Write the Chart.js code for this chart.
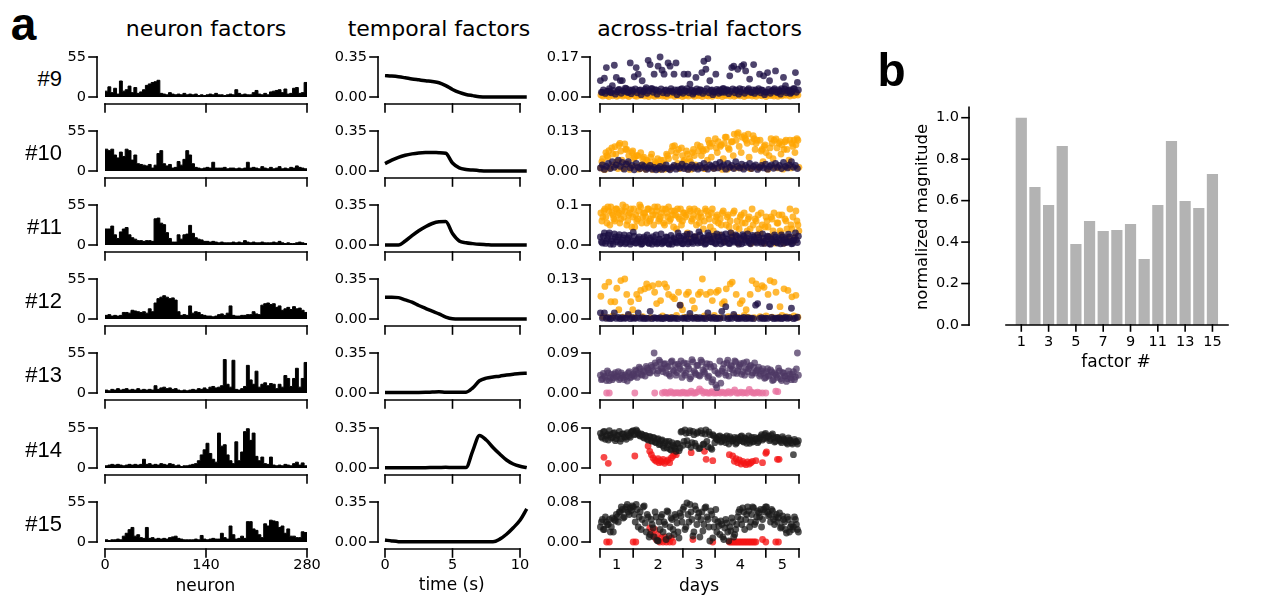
<!DOCTYPE html>
<html>
<head>
<meta charset="utf-8">
<script src="https://cdn.jsdelivr.net/npm/chart.js@4.4.1/dist/chart.umd.min.js"></script>
<style>
  body { margin: 0; background: #fff; }
  #page { position: relative; width: 1268px; height: 597px; overflow: hidden; font-family: "DejaVu Sans", sans-serif; }
  #page canvas { position: absolute; }
  .txt { position: absolute; white-space: nowrap; line-height: 1; color: #000; }
</style>
</head>
<body>
<div id="page"></div>
<script>
// ---- data ----
const factorIds = ["#9", "#10", "#11", "#12", "#13", "#14", "#15"];
const neuronTicks = [0, 140, 280];
const timeTicks = [0, 5, 10];
const timeSec = [0, 0.5, 1, 1.5, 2, 2.5, 3, 3.5, 4, 4.5, 5, 5.5, 6, 6.5, 7, 7.5, 8, 8.5, 9, 9.5, 10, 10.5];
const dayBounds = [0, 100, 250, 347, 500, 600];
const dayNames = ["1", "2", "3", "4", "5"];

// neuron factors, one value per 4 neurons
const neuron9 = [8,14,6,12,4,22,8,10,15,6,13,5,7,10,16,18,20,21,23,5,4,3,6,4,3,4,3,5,3,4,3,4,2,3,2,3,4,3,5,3,3,2,3,4,3,10,5,3,4,3,3,6,9,4,3,5,3,7,8,9,10,6,11,4,5,12,13,5,6,20];
const neuron10 = [30,28,30,22,18,26,20,30,28,15,22,10,9,8,7,9,4,8,24,28,10,7,9,4,5,13,8,16,28,22,10,5,4,3,4,5,4,12,4,4,4,5,3,4,4,3,4,3,4,12,4,5,4,3,6,4,3,5,3,4,6,3,4,3,5,4,7,5,4,3];
const neuron11 = [22,22,26,14,9,18,22,24,14,10,8,6,6,5,6,6,5,36,37,30,28,17,9,4,4,14,8,14,15,27,16,10,8,7,5,5,4,5,4,3,4,3,3,3,4,3,4,3,6,4,3,4,3,3,4,3,3,3,4,3,5,3,2,3,2,2,3,4,3,2];
const neuron12 = [5,6,4,5,4,5,9,9,8,12,11,10,9,10,8,14,10,22,28,30,32,30,28,29,26,10,5,6,5,18,8,10,9,6,5,4,4,3,4,6,7,5,8,18,5,4,4,5,5,6,6,10,7,6,19,21,22,20,21,16,18,12,14,16,13,17,14,15,12,9];
const neuron13 = [4,3,5,4,6,4,5,6,4,5,4,6,4,5,4,5,4,10,5,7,8,6,7,5,6,4,3,4,3,4,5,4,6,5,7,5,8,9,7,8,10,46,12,8,45,5,4,6,9,38,18,12,30,8,12,14,10,13,12,6,12,8,24,20,9,20,34,8,20,42];
const neuron14 = [3,4,5,4,5,4,3,4,5,4,5,4,5,12,5,6,4,5,4,6,5,4,6,5,3,4,2,3,3,4,5,6,10,18,25,34,20,12,8,48,30,32,18,10,6,36,10,22,50,54,38,48,16,10,15,6,5,15,4,3,4,3,5,4,3,6,8,4,7,3];
const neuron15 = [3,2,3,3,4,3,8,12,17,20,8,10,6,5,20,5,6,4,5,4,5,4,6,7,8,5,4,3,3,3,3,4,3,9,4,3,4,5,4,4,12,6,4,22,10,4,5,8,5,28,28,18,16,10,6,25,22,30,29,28,20,22,12,18,8,8,6,6,14,13];

// temporal factors, sampled at timeSec
const temporal9 = [0.187,0.183,0.177,0.168,0.158,0.15,0.142,0.135,0.125,0.1,0.066,0.04,0.022,0.012,0.003,0,0,0,0,0,0,0];
const temporal10 = [0.065,0.095,0.12,0.138,0.15,0.158,0.162,0.162,0.16,0.155,0.07,0.028,0.014,0.008,0.003,0,0,0,0,0,0,0];
const temporal11 = [0,0,0,0.035,0.082,0.125,0.16,0.188,0.203,0.205,0.1,0.035,0.02,0.012,0.006,0.003,0,0,0,0,0,0];
const temporal12 = [0.19,0.19,0.187,0.167,0.147,0.118,0.093,0.068,0.045,0.017,0.002,0,0,0,0,0,0,0,0,0,0,0];
const temporal13 = [0.005,0.005,0.004,0.004,0.005,0.005,0.006,0.008,0.01,0.006,0.006,0.006,0.007,0.045,0.107,0.13,0.14,0.147,0.157,0.165,0.171,0.172];
const temporal14 = [0.003,0.003,0.003,0.003,0.003,0.003,0.003,0.004,0.005,0.006,0.004,0.004,0.004,0.15,0.285,0.245,0.18,0.122,0.07,0.035,0.015,0.003];
const temporal15 = [0.017,0.009,0.003,0.002,0.002,0.002,0.002,0.002,0.003,0.003,0.002,0.002,0.002,0.002,0.002,0.002,0.002,0.025,0.068,0.125,0.19,0.29];

// across-trial factors (each list is spread evenly over the 600 trials)
const navy9 = [0.07,0.02,0.08,0.125,0.025,0.02,0.048,0.135,0.083,0.03,0.07,0.07,0.025,0.035,0.02,0.145,0.03,0.086,0.125,0.097,0.03,0.069,0.025,0.04,0.156,0.138,0.035,0.097,0.03,0.131,0.17,0.114,0.097,0.03,0.145,0.131,0.025,0.097,0.145,0.03,0.02,0.035,0.097,0.025,0.097,0.055,0.03,0.02,0.083,0.025,0.03,0.104,0.152,0.118,0.163,0.069,0.03,0.02,0.097,0.025,0.03,0.02,0.035,0.025,0.03,0.09,0.125,0.131,0.03,0.118,0.035,0.131,0.138,0.111,0.03,0.076,0.02,0.138,0.03,0.025,0.097,0.03,0.09,0.02,0.104,0.069,0.025,0.03,0.111,0.02,0.025,0.035,0.083,0.048,0.025,0.03,0.02,0.035,0.104,0.062];
const navy9Band = [0.02,0.03,0.015,0.025,0.035,0.018,0.028,0.012,0.022,0.032,0.016,0.026,0.038,0.02,0.03,0.014,0.024,0.034,0.018,0.028,0.01,0.022,0.032,0.016,0.026,0.036,0.02,0.03,0.012,0.024,0.034,0.018,0.028,0.015,0.025,0.035,0.02,0.03,0.01,0.022,0.032,0.016,0.026,0.036,0.018,0.028,0.012,0.024,0.034,0.02,0.03,0.015,0.025,0.035,0.018,0.028,0.01,0.022,0.032,0.016,0.026,0.036,0.02,0.03,0.014,0.024,0.034,0.018,0.028,0.012,0.022,0.032,0.016,0.026,0.036,0.02,0.03,0.015,0.025,0.035,0.018,0.028,0.01,0.022,0.032,0.016,0.026,0.036,0.02,0.03,0.012,0.024,0.034,0.018,0.028,0.015,0.025,0.035,0.02,0.03];
const orange9 = [0.008,0.004,0.012,0.006,0.002,0.01,0.005,0.014,0.003,0.007,0.009,0.004,0.011,0.006,0.002,0.008,0.013,0.005,0.003,0.01,0.006,0.015,0.004,0.008,0.002,0.011,0.007,0.003,0.009,0.005,0.012,0.004,0.006,0.002,0.01,0.007,0.013,0.003,0.008,0.005,0.011,0.002,0.006,0.009,0.004,0.014,0.007,0.003,0.01,0.005,0.008,0.002,0.012,0.006,0.004,0.009,0.003,0.011,0.007,0.005,0.013,0.002,0.008,0.006,0.01,0.004,0.012,0.003,0.007,0.009,0.005,0.015,0.002,0.008,0.006,0.011,0.004,0.009,0.003,0.013,0.007,0.005,0.01,0.002,0.012,0.006,0.008,0.004,0.014,0.003,0.009,0.005,0.011,0.007,0.016,0.004,0.01,0.006,0.013,0.008];
const navy10 = [0.01,0.02,0.005,0.015,0.025,0.008,0.03,0.012,0.02,0.035,0.015,0.028,0.006,0.022,0.03,0.01,0.018,0.004,0.025,0.012,0.008,0.02,0.015,0.005,0.01,0.018,0.006,0.012,0.004,0.009,0.015,0.005,0.01,0.02,0.008,0.004,0.012,0.018,0.006,0.015,0.01,0.022,0.008,0.016,0.005,0.012,0.02,0.009,0.014,0.006,0.018,0.01,0.025,0.012,0.006,0.02,0.015,0.008,0.022,0.01,0.028,0.015,0.02,0.006,0.025,0.012,0.018,0.008,0.03,0.015,0.01,0.022,0.006,0.018,0.012,0.025,0.008,0.015,0.02,0.005,0.012,0.018,0.01,0.022,0.006,0.015,0.02,0.009,0.025,0.012,0.018,0.008,0.028,0.015,0.01,0.02,0.03,0.012,0.018,0.008];
const orange10 = [0.01,0.04,0.005,0.05,0.066,0.012,0.055,0.079,0.03,0.084,0.065,0.008,0.088,0.07,0.05,0.012,0.065,0.045,0.05,0.006,0.06,0.04,0.01,0.035,0.02,0.045,0.005,0.03,0.02,0.01,0.035,0.025,0.006,0.055,0.04,0.008,0.08,0.082,0.06,0.07,0.01,0.05,0.035,0.065,0.006,0.03,0.06,0.05,0.012,0.065,0.08,0.07,0.008,0.07,0.1,0.08,0.09,0.01,0.075,0.095,0.08,0.005,0.09,0.11,0.075,0.012,0.095,0.12,0.1,0.125,0.01,0.11,0.115,0.1,0.12,0.008,0.095,0.105,0.09,0.012,0.1,0.07,0.08,0.06,0.006,0.075,0.09,0.1,0.104,0.01,0.095,0.085,0.07,0.1,0.012,0.1,0.09,0.1,0.085,0.1];
const orange10b = [0.03,0.006,0.06,0.045,0.01,0.075,0.02,0.055,0.008,0.09,0.035,0.012,0.07,0.025,0.005,0.06,0.04,0.015,0.05,0.008,0.02,0.045,0.006,0.03,0.012,0.055,0.008,0.025,0.04,0.005,0.015,0.035,0.01,0.05,0.007,0.065,0.012,0.045,0.025,0.008,0.075,0.03,0.01,0.055,0.04,0.006,0.07,0.02,0.085,0.012,0.05,0.065,0.008,0.035,0.09,0.045,0.01,0.105,0.06,0.012,0.085,0.04,0.11,0.006,0.07,0.095,0.05,0.01,0.12,0.08,0.06,0.012,0.105,0.09,0.045,0.008,0.115,0.07,0.1,0.01,0.065,0.03,0.085,0.008,0.05,0.105,0.04,0.012,0.075,0.09,0.055,0.006,0.095,0.07,0.035,0.01,0.08,0.06,0.105,0.012];
const navy11 = [0.02,0.005,0.03,0.01,0.025,0.002,0.015,0.028,0.008,0.02,0.003,0.012,0.025,0.006,0.018,0.002,0.01,0.022,0.005,0.015,0.008,0.003,0.02,0.012,0.005,0.017,0.002,0.01,0.025,0.006,0.014,0.003,0.009,0.02,0.004,0.012,0.002,0.018,0.007,0.03,0.01,0.004,0.022,0.015,0.003,0.028,0.008,0.02,0.012,0.005,0.025,0.01,0.018,0.004,0.03,0.015,0.008,0.022,0.003,0.02,0.012,0.025,0.006,0.028,0.015,0.004,0.02,0.01,0.025,0.006,0.018,0.003,0.022,0.012,0.028,0.005,0.015,0.02,0.008,0.025,0.012,0.004,0.018,0.01,0.022,0.003,0.015,0.008,0.02,0.005,0.012,0.025,0.004,0.016,0.008,0.02,0.003,0.012,0.03,0.006];
const navy11b = [0.008,0.022,0.004,0.016,0.03,0.01,0.002,0.02,0.012,0.026,0.006,0.018,0.003,0.014,0.024,0.008,0.032,0.005,0.012,0.02,0.002,0.016,0.009,0.025,0.004,0.013,0.021,0.007,0.003,0.015,0.028,0.006,0.011,0.019,0.002,0.024,0.009,0.014,0.005,0.022,0.017,0.003,0.012,0.027,0.007,0.015,0.004,0.021,0.01,0.033,0.006,0.018,0.002,0.013,0.024,0.008,0.016,0.005,0.028,0.011,0.003,0.02,0.009,0.015,0.004,0.03,0.012,0.007,0.022,0.002,0.014,0.026,0.006,0.018,0.01,0.003,0.024,0.013,0.005,0.019,0.008,0.028,0.004,0.015,0.021,0.002,0.011,0.025,0.007,0.016,0.003,0.02,0.012,0.006,0.027,0.009,0.004,0.018,0.013,0.022];
const orange11 = [0.08,0.07,0.09,0.055,0.085,0.095,0.075,0.06,0.09,0.08,0.065,0.1,0.085,0.05,0.075,0.09,0.07,0.045,0.06,0.085,0.095,0.07,0.08,0.055,0.09,0.065,0.075,0.095,0.085,0.06,0.07,0.09,0.05,0.08,0.095,0.065,0.075,0.085,0.04,0.07,0.09,0.06,0.08,0.075,0.015,0.085,0.065,0.09,0.05,0.07,0.08,0.01,0.06,0.085,0.075,0.045,0.09,0.02,0.07,0.055,0.065,0.08,0.01,0.05,0.075,0.06,0.025,0.085,0.045,0.005,0.07,0.055,0.08,0.015,0.065,0.04,0.09,0.01,0.06,0.075,0.03,0.05,0.005,0.07,0.045,0.02,0.065,0.08,0.01,0.055,0.035,0.075,0.005,0.06,0.02,0.09,0.04,0.01,0.085,0.05];
const orange11b = [0.06,0.085,0.07,0.095,0.05,0.08,0.065,0.09,0.075,0.055,0.085,0.07,0.095,0.06,0.08,0.045,0.09,0.075,0.065,0.1,0.055,0.08,0.07,0.09,0.06,0.085,0.05,0.075,0.095,0.065,0.08,0.055,0.09,0.07,0.06,0.085,0.045,0.075,0.09,0.065,0.05,0.08,0.07,0.03,0.09,0.06,0.075,0.02,0.085,0.055,0.07,0.04,0.09,0.015,0.065,0.08,0.035,0.06,0.075,0.025,0.05,0.085,0.01,0.07,0.045,0.03,0.08,0.02,0.06,0.04,0.075,0.015,0.055,0.035,0.07,0.005,0.05,0.065,0.025,0.04,0.08,0.01,0.045,0.06,0.02,0.07,0.035,0.005,0.055,0.075,0.03,0.015,0.065,0.04,0.01,0.05,0.07,0.02,0.06,0.035];
const navy12 = [0.02,0.003,0.02,0.002,0.004,0.001,0.003,0.02,0.002,0.005,0.001,0.004,0.002,0.003,0.015,0.001,0.004,0.002,0.003,0.02,0.002,0.004,0.001,0.003,0.002,0.025,0.001,0.004,0.003,0.002,0.004,0.001,0.002,0.005,0.003,0.001,0.004,0.002,0.003,0.001,0.045,0.003,0.002,0.004,0.001,0.018,0.003,0.002,0.005,0.001,0.004,0.002,0.003,0.001,0.02,0.004,0.002,0.005,0.001,0.003,0.002,0.025,0.004,0.04,0.001,0.003,0.002,0.015,0.004,0.001,0.003,0.002,0.005,0.001,0.004,0.002,0.003,0.001,0.045,0.05,0.002,0.004,0.001,0.003,0.002,0.04,0.005,0.001,0.003,0.002,0.004,0.001,0.003,0.005,0.002,0.004,0.035,0.001,0.003,0.006];
const orange12 = [0.074,0.008,0.106,0.004,0.12,0.056,0.01,0.056,0.1,0.03,0.125,0.006,0.13,0.08,0.012,0.056,0.03,0.005,0.08,0.066,0.093,0.008,0.098,0.114,0.103,0.004,0.108,0.087,0.05,0.114,0.06,0.01,0.114,0.103,0.08,0.005,0.072,0.066,0.012,0.087,0.045,0.03,0.006,0.08,0.087,0.008,0.06,0.035,0.004,0.08,0.087,0.13,0.01,0.08,0.006,0.087,0.06,0.012,0.087,0.093,0.004,0.05,0.056,0.098,0.008,0.114,0.12,0.01,0.08,0.005,0.05,0.06,0.012,0.03,0.006,0.08,0.125,0.004,0.114,0.098,0.008,0.108,0.103,0.01,0.08,0.125,0.006,0.12,0.087,0.004,0.04,0.012,0.098,0.008,0.093,0.005,0.072,0.01,0.077,0.006];
const purple13 = [0.04,0.032,0.038,0.028,0.045,0.035,0.03,0.042,0.036,0.048,0.033,0.04,0.03,0.037,0.045,0.034,0.04,0.038,0.05,0.044,0.055,0.04,0.048,0.06,0.052,0.045,0.058,0.09,0.062,0.05,0.07,0.055,0.065,0.045,0.06,0.038,0.072,0.05,0.04,0.065,0.055,0.035,0.068,0.045,0.06,0.032,0.075,0.05,0.042,0.062,0.038,0.07,0.048,0.058,0.035,0.065,0.025,0.06,0.018,0.045,0.072,0.05,0.065,0.04,0.074,0.055,0.06,0.045,0.07,0.05,0.062,0.042,0.068,0.055,0.048,0.06,0.04,0.058,0.045,0.052,0.038,0.05,0.045,0.035,0.055,0.04,0.048,0.03,0.042,0.035,0.05,0.028,0.045,0.038,0.032,0.042,0.03,0.048,0.036,0.09];
const purple13b = [0.03,0.044,0.036,0.05,0.028,0.042,0.034,0.046,0.038,0.03,0.045,0.035,0.041,0.027,0.048,0.036,0.043,0.052,0.035,0.058,0.042,0.05,0.038,0.056,0.046,0.062,0.05,0.068,0.044,0.074,0.056,0.048,0.066,0.058,0.042,0.07,0.052,0.064,0.046,0.06,0.072,0.05,0.04,0.066,0.054,0.036,0.07,0.046,0.062,0.04,0.074,0.052,0.044,0.066,0.038,0.058,0.03,0.05,0.012,0.042,0.022,0.055,0.046,0.068,0.038,0.062,0.052,0.072,0.044,0.058,0.066,0.048,0.04,0.07,0.055,0.062,0.045,0.068,0.05,0.058,0.042,0.055,0.033,0.048,0.038,0.052,0.028,0.045,0.04,0.056,0.032,0.046,0.038,0.026,0.05,0.035,0.042,0.03,0.054,0.04];
const pinkTrials13 = [20,28,105,165,188,195,200,207,213,220,226,232,238,245,250,256,262,268,275,281,287,293,300,306,312,318,325,331,337,343,350,356,362,368,375,381,387,393,400,406,412,418,425,431,437,443,450,456,462,468,475,481,490,500,530,536];
const pinkVals13 = [0,0,0,0,0,0.002,0,0,0.003,0,0,0.001,0,0,0.002,0,0,0,0.004,0,0,0.002,0.009,0.005,0,0.002,0,0,0.003,0,0,0.001,0,0.002,0,0,0.003,0,0.002,0.007,0,0,0.002,0,0.001,0,0.008,0.002,0,0,0.002,0,0,0,0.004,0.003];
const black14 = [0.052,0.045,0.055,0.048,0.042,0.05,0.046,0.053,0.044,0.049,0.04,0.051,0.047,0.043,0.05,0.046,0.055,0.05,0.057,0.052,0.048,0.05,0.045,0.048,0.042,0.047,0.04,0.045,0.038,0.044,0.036,0.042,0.03,0.04,0.035,0.028,0.038,0.032,0.025,0.036,0.03,0.055,0.04,0.052,0.035,0.056,0.038,0.05,0.033,0.054,0.03,0.052,0.036,0.057,0.032,0.05,0.028,0.048,0.045,0.042,0.048,0.04,0.046,0.038,0.044,0.047,0.04,0.043,0.036,0.045,0.041,0.048,0.039,0.044,0.042,0.037,0.046,0.04,0.043,0.038,0.045,0.05,0.044,0.052,0.047,0.041,0.049,0.045,0.04,0.046,0.042,0.038,0.044,0.04,0.036,0.042,0.038,0.02,0.04,0.036];
const black14b = [0.047,0.054,0.043,0.05,0.056,0.045,0.052,0.041,0.049,0.055,0.044,0.051,0.046,0.053,0.048,0.054,0.056,0.051,0.055,0.049,0.051,0.046,0.049,0.043,0.047,0.041,0.046,0.039,0.043,0.035,0.041,0.033,0.038,0.03,0.04,0.027,0.034,0.029,0.037,0.026,0.054,0.034,0.057,0.041,0.053,0.031,0.055,0.037,0.052,0.029,0.056,0.035,0.051,0.04,0.054,0.03,0.05,0.038,0.043,0.047,0.039,0.045,0.042,0.048,0.036,0.044,0.041,0.046,0.038,0.043,0.047,0.04,0.045,0.037,0.048,0.042,0.039,0.046,0.044,0.04,0.047,0.042,0.05,0.045,0.048,0.043,0.051,0.039,0.046,0.044,0.04,0.047,0.042,0.038,0.045,0.041,0.036,0.043,0.039,0.041];
const redTrials14 = [12,25,105,145,150,155,160,165,170,175,178,182,186,190,195,200,205,210,215,220,225,230,275,315,320,340,390,400,405,410,415,420,425,430,435,440,445,450,455,460,470,490,500,502,535,540];
const redVals14 = [0.016,0.007,0.018,0.033,0.025,0.02,0.015,0.012,0.01,0.014,0.008,0.011,0.009,0.013,0.007,0.01,0.012,0.008,0.015,0.018,0.022,0.02,0.023,0.025,0.013,0.011,0.02,0.018,0.01,0.014,0.008,0.012,0.006,0.01,0.007,0.005,0.009,0.006,0.008,0.01,0.011,0.008,0.022,0.024,0.013,0.013];
const black15 = [0.03,0.045,0.025,0.04,0.035,0.02,0.048,0.045,0.055,0.04,0.06,0.065,0.05,0.07,0.06,0.068,0.072,0.055,0.075,0.03,0.06,0.045,0.072,0.02,0.05,0.015,0.035,0.01,0.05,0.002,0.025,0.055,0.04,0.005,0.06,0.03,0.045,0.015,0.05,0.02,0.058,0.04,0.07,0.03,0.055,0.075,0.045,0.02,0.065,0.05,0.01,0.06,0.035,0.07,0.045,0.002,0.055,0.03,0.065,0.04,0.015,0.035,0.005,0.045,0.02,0.03,0.048,0.01,0.025,0.05,0.065,0.035,0.06,0.045,0.07,0.03,0.055,0.068,0.04,0.062,0.05,0.03,0.065,0.07,0.06,0.055,0.065,0.045,0.05,0.04,0.058,0.03,0.045,0.025,0.05,0.02,0.035,0.03,0.045,0.025];
const black15b = [0.04,0.025,0.05,0.035,0.045,0.03,0.02,0.042,0.05,0.06,0.07,0.048,0.065,0.075,0.055,0.063,0.07,0.04,0.065,0.05,0.025,0.07,0.038,0.055,0.01,0.045,0.028,0.06,0.003,0.04,0.05,0.02,0.035,0.062,0.012,0.048,0.025,0.055,0.038,0.008,0.052,0.065,0.025,0.078,0.04,0.06,0.012,0.072,0.035,0.058,0.045,0.022,0.068,0.05,0.03,0.062,0.008,0.045,0.02,0.032,0.042,0.01,0.028,0.038,0.002,0.022,0.04,0.015,0.035,0.06,0.045,0.068,0.025,0.055,0.062,0.04,0.07,0.035,0.05,0.058,0.065,0.045,0.06,0.07,0.052,0.04,0.062,0.035,0.055,0.048,0.028,0.052,0.04,0.018,0.045,0.03,0.025,0.05,0.035,0.02];
const redTrials15 = [20,28,100,108,150,155,160,165,170,175,180,185,190,195,200,205,210,215,220,280,340,390,395,400,405,410,415,420,425,430,435,440,445,450,455,460,465,470,490,500,530,538];
const redVals15 = [0,0,0,0,0.028,0.02,0.012,0.025,0.005,0.015,0,0.008,0,0.01,0,0.005,0,0.008,0,0.005,0,0,0,0,0,0,0,0,0,0,0,0,0,0,0,0,0,0,0.005,0,0,0];

const trialMax = [0.17, 0.13, 0.1, 0.13, 0.09, 0.06, 0.08];
const trialTopLabels = ["0.17", "0.13", "0.1", "0.13", "0.09", "0.06", "0.08"];
const trialZeroLabels = ["0.00", "0.00", "0.0", "0.00", "0.00", "0.00", "0.00"];

// panel b
const factorNums = [1, 2, 3, 4, 5, 6, 7, 8, 9, 10, 11, 12, 13, 14, 15];
const magnitudes = [1.0, 0.666, 0.579, 0.863, 0.391, 0.502, 0.453, 0.458, 0.487, 0.318, 0.579, 0.888, 0.598, 0.564, 0.728];
const magTicks = [0, 0.2, 0.4, 0.6, 0.8, 1.0];
const factorTicks = [1, 3, 5, 7, 9, 11, 13, 15];

// ---- colours ----
const NAVY = "rgba(28, 16, 68, 0.78)";
const ORANGE = "rgba(255, 165, 0, 0.78)";
const PURPLE = "rgba(78, 56, 100, 0.75)";
const PINK = "rgba(232, 115, 160, 0.8)";
const BLACK = "rgba(25, 25, 25, 0.75)";
const RED = "rgba(245, 20, 20, 0.78)";

const rows = [
  { neuron: neuron9, temporal: temporal9, a: [navy9, navy9Band], b: [orange9], colors: [NAVY, ORANGE] },
  { neuron: neuron10, temporal: temporal10, a: [navy10], b: [orange10, orange10b], colors: [NAVY, ORANGE] },
  { neuron: neuron11, temporal: temporal11, a: [navy11, navy11b], b: [orange11, orange11b], colors: [NAVY, ORANGE] },
  { neuron: neuron12, temporal: temporal12, a: [navy12], b: [orange12], colors: [NAVY, ORANGE] },
  { neuron: neuron13, temporal: temporal13, a: [purple13, purple13b], bTrials: pinkTrials13, b: pinkVals13, colors: [PURPLE, PINK] },
  { neuron: neuron14, temporal: temporal14, a: [black14, black14b], bTrials: redTrials14, b: redVals14, colors: [BLACK, RED] },
  { neuron: neuron15, temporal: temporal15, a: [black15, black15b], bTrials: redTrials15, b: redVals15, colors: [BLACK, RED] },
];

// ---- layout ----
const TICK_FONT = '14.5px "DejaVu Sans"';
const ROW0 = 97;        // zero line of the first row
const ROW_STEP = 74.1;
const PLOT_H = 40;

const page = document.getElementById("page");

function text(str, x, y, css, anchor) {
  const d = document.createElement("div");
  d.className = "txt";
  d.textContent = str;
  d.style.cssText += css;
  d.style.left = x + "px";
  d.style.top = y + "px";
  const shift = anchor === "right" ? "translate(-100%,-50%)" : "translate(-50%,-50%)";
  d.style.transform = shift + (anchor === "rot" ? " rotate(-90deg)" : "");
  page.appendChild(d);
}

// matplotlib-like trimmed spines, drawn from the chart's own scales
function axesFor(spec) {
  return {
    id: "axes",
    afterDatasetsDraw(chart) {
      const { ctx, chartArea } = chart;
      const xs = chart.scales.x;
      const ys = chart.scales.y;
      ctx.save();
      ctx.strokeStyle = "#000";
      ctx.fillStyle = "#000";
      ctx.lineWidth = 1.6;
      ctx.lineCap = "square";
      ctx.font = TICK_FONT;

      const sx = chartArea.left - spec.yGap;
      const ySpan = spec.ySpan || [spec.yTicks[0], spec.yTicks[spec.yTicks.length - 1]];
      ctx.beginPath();
      ctx.moveTo(sx, ys.getPixelForValue(ySpan[0]));
      ctx.lineTo(sx, ys.getPixelForValue(ySpan[1]));
      ctx.stroke();
      ctx.textAlign = "right";
      ctx.textBaseline = "middle";
      spec.yTicks.forEach((v, i) => {
        const py = ys.getPixelForValue(v);
        ctx.beginPath();
        ctx.moveTo(sx - spec.yTick, py);
        ctx.lineTo(sx, py);
        ctx.stroke();
        ctx.fillText(spec.yLabels[i], sx - spec.yTick - 3, py);
      });

      const sy = chartArea.bottom + spec.xGap;
      const xSpan = spec.xSpan || [spec.xTicks[0], spec.xTicks[spec.xTicks.length - 1]];
      ctx.beginPath();
      ctx.moveTo(xs.getPixelForValue(xSpan[0]), sy);
      ctx.lineTo(xs.getPixelForValue(xSpan[1]), sy);
      ctx.stroke();
      spec.xTicks.forEach((v) => {
        const px = xs.getPixelForValue(v);
        ctx.beginPath();
        ctx.moveTo(px, sy);
        ctx.lineTo(px, sy + spec.xTick);
        ctx.stroke();
      });
      if (spec.xLabels) {
        ctx.textAlign = "center";
        spec.xLabels.forEach((t, i) => {
          ctx.fillText(t, xs.getPixelForValue(spec.xLabelAt[i]), sy + spec.xLabelDy);
        });
      }
      ctx.restore();
    },
  };
}

// box: canvas [left, top, width, height]; area: plot [left, top, right, bottom], page coords
function panel(box, area, config, spec) {
  const c = document.createElement("canvas");
  c.width = box[2];
  c.height = box[3];
  c.style.left = box[0] + "px";
  c.style.top = box[1] + "px";
  page.appendChild(c);
  config.options = Object.assign({
    responsive: false,
    animation: false,
    devicePixelRatio: 1,
    events: [],
    layout: {
      padding: {
        left: area[0] - box[0],
        top: area[1] - box[1],
        right: box[0] + box[2] - area[2],
        bottom: box[1] + box[3] - area[3],
      },
    },
    plugins: { legend: { display: false }, tooltip: { enabled: false } },
  }, config.options);
  config.plugins = [axesFor(spec)];
  return new Chart(c, config);
}

function hiddenScales(xmin, xmax, ymin, ymax) {
  return {
    x: { type: "linear", display: false, min: xmin, max: xmax },
    y: { type: "linear", display: false, min: ymin, max: ymax },
  };
}

function stepPoints(vals) {
  const w = neuronTicks[2] / vals.length;
  const pts = vals.map((v, i) => ({ x: i * w, y: v }));
  pts.push({ x: neuronTicks[2], y: vals[vals.length - 1] });
  return pts;
}

function evenTrials(vals, shift) {
  const step = dayBounds[dayBounds.length - 1] / vals.length;
  return vals.map((v, i) => ({ x: (i + shift) * step, y: v }));
}

function spreadAll(lists, shifts) {
  return lists.flatMap((vals, k) => evenTrials(vals, shifts[k]));
}

const dayMids = dayNames.map((_, i) => (dayBounds[i] + dayBounds[i + 1]) / 2);

rows.forEach((row, r) => {
  const y0 = ROW0 + r * ROW_STEP;
  const last = r === rows.length - 1;

  text(factorIds[r], 62, y0 - 18, 'font: 22px "Liberation Sans", Arial, sans-serif;', "right");

  // neuron factors
  panel([60, y0 - 55, 260, 115], [105, y0 - PLOT_H, 307, y0], {
    type: "line",
    data: {
      datasets: [{
        data: stepPoints(row.neuron),
        stepped: true,
        fill: "origin",
        backgroundColor: "#000",
        borderColor: "#000",
        borderWidth: 1,
        pointRadius: 0,
        clip: false,
      }],
    },
    options: { scales: hiddenScales(0, 280, 0, 55) },
  }, {
    yTicks: [0, 55], yLabels: ["0", "55"], yGap: 8, yTick: 8,
    xTicks: neuronTicks, xGap: 7, xTick: 8,
    xLabels: last ? neuronTicks.map(String) : null, xLabelAt: neuronTicks, xLabelDy: 16,
  });

  // temporal factors
  panel([325, y0 - 55, 210, 115], [385, y0 - PLOT_H, 385 + 10.5 * 13.5, y0], {
    type: "line",
    data: {
      datasets: [{
        data: timeSec.map((t, i) => ({ x: t, y: row.temporal[i] })),
        borderColor: "#000",
        borderWidth: 3.5,
        cubicInterpolationMode: "monotone",
        pointRadius: 0,
        fill: false,
        clip: false,
      }],
    },
    options: { scales: hiddenScales(0, 10.5, 0, 0.35) },
  }, {
    yTicks: [0, 0.35], yLabels: ["0.00", "0.35"], yGap: 7, yTick: 8,
    xTicks: timeTicks, xGap: 7, xTick: 8,
    xLabels: last ? timeTicks.map(String) : null, xLabelAt: timeTicks, xLabelDy: 16,
  });

  // across-trial factors
  const first = spreadAll(row.a, [0.2, 0.7]);
  const second = row.bTrials
    ? row.bTrials.map((t, i) => ({ x: t, y: row.b[i] }))
    : spreadAll(row.b, [0.45, 0.95]);
  panel([535, y0 - 55, 275, 115], [600, y0 - PLOT_H, 799, y0], {
    type: "scatter",
    data: {
      datasets: [
        { data: first, backgroundColor: row.colors[0], pointRadius: 3.4, borderWidth: 0, clip: false },
        { data: second, backgroundColor: row.colors[1], pointRadius: 3.4, borderWidth: 0, clip: false },
      ],
    },
    options: { scales: hiddenScales(0, dayBounds[dayBounds.length - 1], 0, trialMax[r]) },
  }, {
    yTicks: [0, trialMax[r]], yLabels: [trialZeroLabels[r], trialTopLabels[r]], yGap: 10, yTick: 8,
    xTicks: dayBounds, xGap: 7, xTick: 8,
    xLabels: last ? dayNames : null, xLabelAt: dayMids, xLabelDy: 16,
  });
});

// panel b: normalized magnitude per factor
panel([900, 95, 368, 285], [969, 325 - 1.05 * 207.3, 1265, 325], {
  type: "bar",
  data: {
    datasets: [{
      data: factorNums.map((f, i) => ({ x: f, y: magnitudes[i] })),
      backgroundColor: "#b3b3b3",
      borderWidth: 0,
      barPercentage: 0.82,
      categoryPercentage: 1,
    }],
  },
  options: { scales: hiddenScales(-0.12, 16.14, 0, 1.05) },
}, {
  yTicks: magTicks, yLabels: magTicks.map((v) => v.toFixed(1)), ySpan: [0, 1.05], yGap: 0, yTick: 7,
  xTicks: factorTicks, xSpan: [-0.12, 16.14], xGap: 0, xTick: 6,
  xLabels: factorTicks.map(String), xLabelAt: factorTicks, xLabelDy: 17.7,
});

// titles and labels
const boldPanel = 'font: bold 46px "Liberation Sans", Arial, sans-serif;';
text("a", 23.5, 24, boldPanel);
text("b", 891.5, 70, boldPanel);
text("neuron factors", 206, 28.5, "font-size: 22px;");
text("temporal factors", 439, 28.5, "font-size: 22px;");
text("across-trial factors", 699.5, 28.5, "font-size: 22px;");
text("neuron", 205.5, 584.5, "font-size: 17px;");
text("time (s)", 451.7, 584, "font-size: 17px;");
text("days", 699, 584.5, "font-size: 17px;");
text("factor #", 1116, 361, "font-size: 17px;");
text("normalized magnitude", 921.5, 216.5, "font-size: 16.5px;", "rot");
</script>
</body>
</html>
